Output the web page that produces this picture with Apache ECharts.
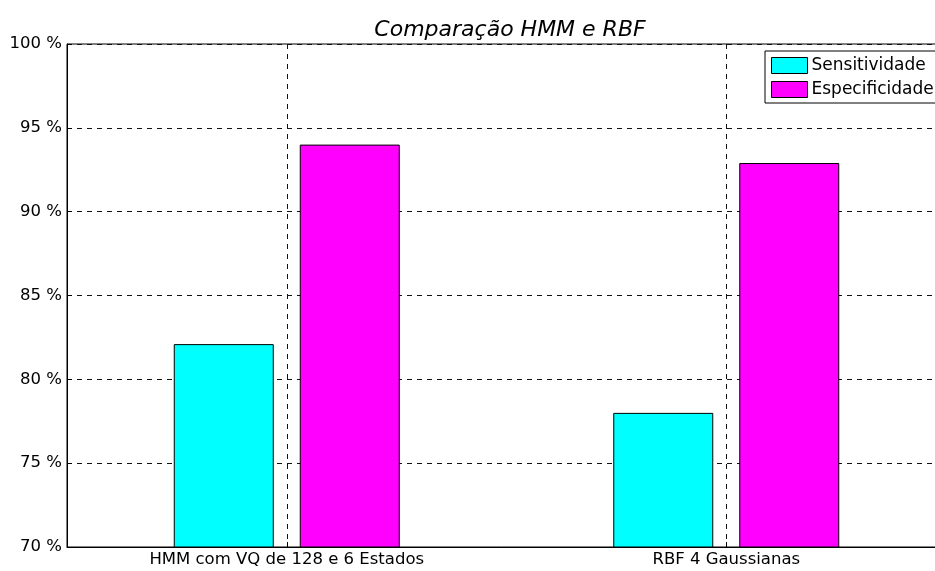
<!DOCTYPE html>
<html>
<head>
<meta charset="utf-8">
<script src="https://cdn.jsdelivr.net/npm/echarts@6/dist/echarts.min.js"></script>
<style>
  html, body { margin: 0; padding: 0; background: #fff; }
  #chart { width: 935px; height: 571px; }
</style>
</head>
<body>
<div id="chart"></div>
<script>
// Categories, series and axis labels
const categories = ['HMM com VQ de 128 e 6 Estados', 'RBF 4 Gaussianas'];
const sensitividade = [82.1, 78.0];
const especificidade = [94.0, 92.9];
const yTicks = [70, 75, 80, 85, 90, 95, 100];

const FONT = '"DejaVu Sans", Verdana, sans-serif';
const dashed = { color: '#111', width: 1, type: [5, 5] };

const chart = echarts.init(document.getElementById('chart'));
chart.setOption({
  animation: false,
  backgroundColor: '#fff',
  title: {
    text: 'Comparação HMM e RBF',
    left: 505,
    textAlign: 'center',
    top: 14,
    textStyle: { fontFamily: FONT, fontSize: 22, fontWeight: 'normal', fontStyle: 'italic', color: '#000' }
  },
  legend: {
    orient: 'vertical',
    left: 765,
    top: 51,
    padding: [6, 40, 5, 6],
    itemWidth: 36,
    itemHeight: 16,
    itemGap: 7,
    icon: 'rect',
    borderColor: '#000',
    borderWidth: 1,
    borderRadius: 0,
    backgroundColor: '#fff',
    textStyle: { fontFamily: FONT, fontSize: 17, color: '#000', padding: [0, 0, 0, -1] },
    data: [
      { name: 'Sensitividade', itemStyle: { color: '#00ffff', borderColor: '#000', borderWidth: 1 } },
      { name: 'Especificidade', itemStyle: { color: '#ff00ff', borderColor: '#000', borderWidth: 1 } }
    ]
  },
  // the axes box runs a little past the right edge of the canvas
  grid: {
    left: 67, width: 879, top: 44, bottom: 24,
    outerBoundsMode: 'none',
    containLabel: false,
    show: true, borderColor: '#000', borderWidth: 1
  },
  xAxis: {
    type: 'category',
    data: categories,
    axisLine: { show: true, lineStyle: { color: '#000', width: 1 } },
    axisTick: { show: true, inside: true, alignWithLabel: true, length: 5, lineStyle: { color: '#000' } },
    axisLabel: { fontFamily: FONT, fontSize: 16.5, color: '#000', margin: 4 },
    splitLine: { show: true, alignWithLabel: true, lineStyle: dashed }
  },
  yAxis: {
    type: 'value',
    min: 70,
    max: 100,
    interval: 5,
    axisLine: { show: true, lineStyle: { color: '#000', width: 1 } },
    axisTick: { show: true, inside: true, length: 5, lineStyle: { color: '#000' } },
    axisLabel: {
      fontFamily: FONT, fontSize: 16.5, color: '#000', margin: 5,
      formatter: v => (yTicks.includes(v) ? v + ' %' : '')
    },
    splitLine: { show: true, lineStyle: dashed }
  },
  series: [
    {
      name: 'Sensitividade',
      type: 'bar',
      data: sensitividade,
      barWidth: 100,
      barGap: '26%',
      itemStyle: { color: '#00ffff', borderColor: '#000', borderWidth: 1 }
    },
    {
      name: 'Especificidade',
      type: 'bar',
      data: especificidade,
      barWidth: 100,
      barGap: '26%',
      itemStyle: { color: '#ff00ff', borderColor: '#000', borderWidth: 1 }
    }
  ]
});
</script>
</body>
</html>
